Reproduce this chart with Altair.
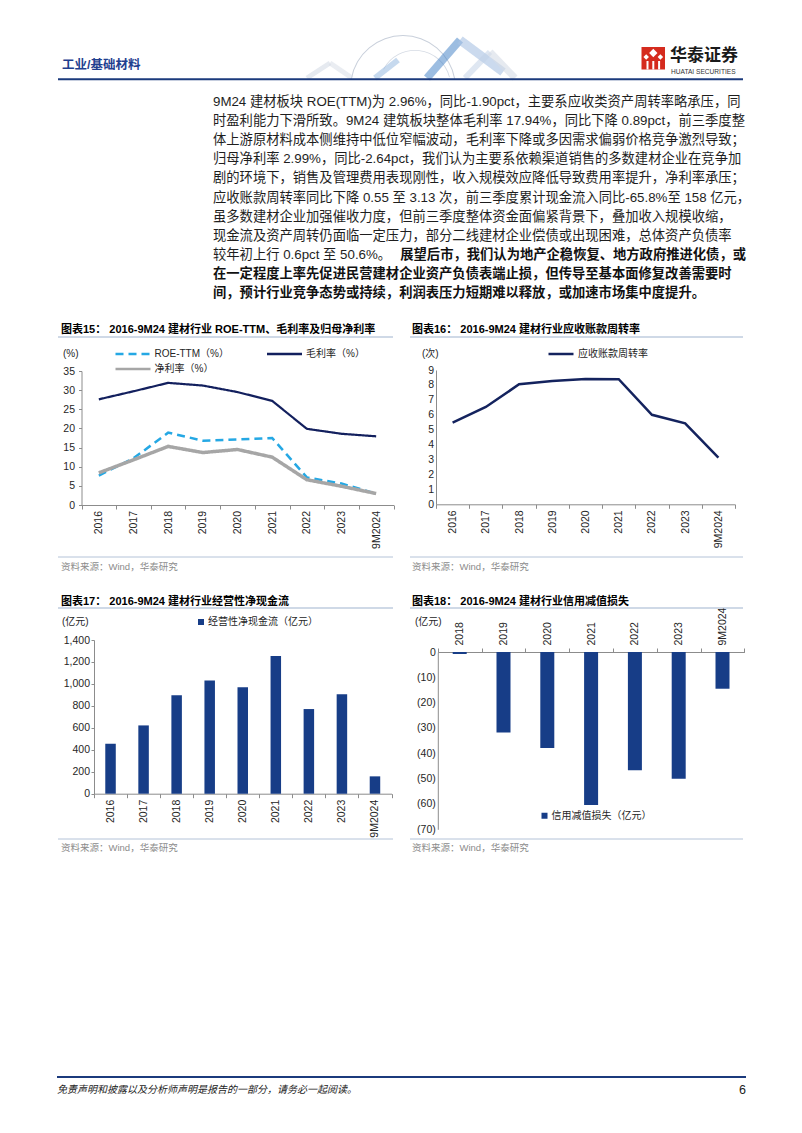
import altair as alt
import pandas as pd

# ---------------- data ----------------
years = ["2016", "2017", "2018", "2019", "2020", "2021", "2022", "2023", "9M2024"]
roe_ttm = [7.7, 12.2, 18.9, 16.8, 17.1, 17.5, 7.2, 5.6, 2.96]
gross_margin = [27.6, 29.7, 31.9, 31.2, 29.5, 27.2, 19.9, 18.6, 17.94]
net_margin = [8.4, 11.8, 15.3, 13.7, 14.5, 12.5, 6.6, 4.9, 2.99]
ar_turnover = [5.48, 6.52, 8.04, 8.27, 8.40, 8.38, 6.00, 5.43, 3.13]
op_cashflow = [455, 622, 896, 1032, 970, 1254, 771, 905, 158]
credit_years = ["2018", "2019", "2020", "2021", "2022", "2023", "9M2024"]
credit_loss = [-0.8, -31.8, -37.9, -60.4, -46.7, -50.0, -14.5]

series15 = ["ROE-TTM（%）", "毛利率（%）", "净利率（%）"]
series16 = ["应收账款周转率"]
series17 = ["经营性净现金流（亿元）"]
series18 = ["信用减值损失（亿元）"]

header_left = "工业/基础材料"
logo_cn = "华泰证券"
logo_en = "HUATAI SECURITIES"
para_lines = [
    "9M24 建材板块 ROE(TTM)为 2.96%，同比-1.90pct，主要系应收类资产周转率略承压，同",
    "时盈利能力下滑所致。9M24 建筑板块整体毛利率 17.94%，同比下降 0.89pct，前三季度整",
    "体上游原材料成本侧维持中低位窄幅波动，毛利率下降或多因需求偏弱价格竞争激烈导致；",
    "归母净利率 2.99%，同比-2.64pct，我们认为主要系依赖渠道销售的多数建材企业在竞争加",
    "剧的环境下，销售及管理费用表现刚性，收入规模效应降低导致费用率提升，净利率承压；",
    "应收账款周转率同比下降 0.55 至 3.13 次，前三季度累计现金流入同比-65.8%至 158 亿元，",
    "虽多数建材企业加强催收力度，但前三季度整体资金面偏紧背景下，叠加收入规模收缩，",
    "现金流及资产周转仍面临一定压力，部分二线建材企业偿债或出现困难，总体资产负债率",
    "较年初上行 0.6pct 至 50.6%。",
]
para_bold_tail = "展望后市，我们认为地产企稳恢复、地方政府推进化债，或"
para_bold_lines = [
    "在一定程度上率先促进民营建材企业资产负债表端止损，但传导至基本面修复改善需要时",
    "间，预计行业竞争态势或持续，利润表压力短期难以释放，或加速市场集中度提升。",
]
titles = [
    "图表15：  2016-9M24 建材行业 ROE-TTM、毛利率及归母净利率",
    "图表16：  2016-9M24 建材行业应收账款周转率",
    "图表17：  2016-9M24 建材行业经营性净现金流",
    "图表18：  2016-9M24 建材行业信用减值损失",
]
source_text = "资料来源：Wind，华泰研究"
footer_text = "免责声明和披露以及分析师声明是报告的一部分，请务必一起阅读。"
page_no = "6"

# ---------------- helpers ----------------
W, H = 786, 1117
def px(x):
    return x - 8
def py(y):
    return y - 8

AX = "#8C8C8C"
LAB = "#262626"
FONT_NUM = "Liberation Sans"
FONT_MIX = "Liberation Sans, Noto Sans CJK SC"
dummy = pd.DataFrame({"d": [0]})


def txt(s, x, y, size=10.0, color="#222222", weight="normal", align="left", font=FONT_MIX, style=None):
    kw = dict(text=s, fontSize=size, color=color, fontWeight=weight, align=align,
              baseline="middle", font=font)
    if style:
        kw["fontStyle"] = style
    return alt.Chart(dummy).mark_text(**kw).encode(x=alt.value(px(x)), y=alt.value(py(y)))


def rule(x1, y1, x2, y2, color, width, opacity=1.0):
    return alt.Chart(dummy).mark_rule(color=color, strokeWidth=width, opacity=opacity).encode(
        x=alt.value(px(x1)), y=alt.value(py(y1)), x2=alt.value(px(x2)), y2=alt.value(py(y2)))


def xaxis(offset, orient="bottom", pad=1.5):
    return alt.Axis(orient=orient, offset=offset, title=None, labelAngle=270,
                    labelAlign="right" if orient == "bottom" else "left", labelBaseline="middle",
                    tickBand="extent", tickSize=4, labelPadding=pad, grid=False,
                    domainColor=AX, tickColor=AX, labelFont=FONT_NUM, labelFontSize=10.5,
                    labelColor=LAB, labelOverlap=False)


def yaxis(offset, values, tick=3, pad=3, fmt=None, expr=None):
    kw = dict(orient="left", offset=offset, title=None, values=values, grid=False,
              tickSize=tick, ticks=tick > 0, labelPadding=pad, domainColor=AX, tickColor=AX,
              labelFont=FONT_NUM, labelFontSize=10.5, labelColor=LAB)
    if fmt:
        kw["format"] = fmt
    if expr:
        kw["labelExpr"] = expr
    return alt.Axis(**kw)


def legend(x, y, stype, ssize, offset=2.5, **extra):
    return alt.Legend(orient="none", legendX=px(x), legendY=py(y) - 6, clipHeight=12, title=None,
                      symbolType=stype, symbolSize=ssize, labelFont=FONT_MIX, labelFontSize=10,
                      labelColor=LAB, labelOffset=offset, padding=0, **extra)


layers = []

# ---------------- header decoration ----------------
layers.append(alt.Chart(dummy).mark_arc(theta=4.887, theta2=7.679, radius=53, radius2=52,
                                         color="#C9D0DB").encode(
    x=alt.value(px(403)), y=alt.value(py(88))))
layers.append(alt.Chart(dummy).mark_arc(theta=5.2, theta2=7.6, radius=36, radius2=35.2,
                                         color="#D5DBE4").encode(
    x=alt.value(px(415)), y=alt.value(py(86))))
layers.append(rule(307, 78, 330, 63, "#D5DCE6", 5, 0.6))
layers.append(rule(330, 63, 352, 78, "#D5DCE6", 5, 0.5))
layers.append(rule(375, 78, 398, 60, "#8DB3DE", 6, 0.5))
layers.append(rule(427, 78, 460, 40, "#4A86C8", 8, 0.55))
layers.append(rule(460, 40, 503, 72, "#A9C2E2", 9, 0.6))
layers.append(rule(465, 78, 490, 52, "#BFD0E6", 6, 0.5))
layers.append(rule(490, 52, 515, 78, "#D5DCE6", 7, 0.6))

layers.append(txt(header_left, 62, 65, size=12.5, color="#1F3F8F", weight="bold"))
layers.append(rule(58, 79.3, 743, 79.3, "#1B3A7C", 2))

# logo
layers.append(alt.Chart(dummy).mark_rect(color="#D52B1E").encode(
    x=alt.value(px(641.5)), x2=alt.value(px(665)), y=alt.value(py(47)), y2=alt.value(py(69.5))))
layers.append(alt.Chart(dummy).mark_point(shape="diamond", filled=True, color="white", opacity=1,
                                           size=70).encode(x=alt.value(px(653.3)), y=alt.value(py(53))))
for cx in (646.2, 660.4):
    layers.append(alt.Chart(dummy).mark_point(shape="diamond", filled=True, color="white", opacity=1,
                                               size=30).encode(x=alt.value(px(cx)), y=alt.value(py(57))))
for bx in (647.5, 653.3, 659.1):
    layers.append(rule(bx, 61, bx, 69.5, "white", 2))
layers.append(txt(logo_cn, 670, 55.5, size=17, color="#1A1A1A", weight="bold"))
layers.append(txt(logo_en, 671, 71.8, size=6.6, color="#333333"))

# ---------------- paragraph ----------------
FS = 13.3
for i, line in enumerate(para_lines):
    layers.append(txt(line, 213, 102 + 19.1 * i, size=FS, color="#1E1E1E"))
layers.append(txt(para_bold_tail, 746, 102 + 19.1 * 8, size=FS, color="#111111",
                  weight="bold", align="right"))
for j, line in enumerate(para_bold_lines):
    layers.append(txt(line, 213, 102 + 19.1 * (9 + j), size=FS, color="#111111", weight="bold"))

# ---------------- chart frames (titles, rules, sources) ----------------
for (tx, ty), t in zip([(61, 330), (412, 330), (61, 601.7), (412, 601.7)], titles):
    layers.append(txt(t, tx, ty, size=11, color="#000000", weight="bold"))
for (x1, x2, y) in [(58, 393, 337), (410, 743, 337), (58, 393, 608), (410, 743, 608)]:
    layers.append(rule(x1, y, x2, y, "#9FB3CE", 1))
for (x1, x2, y) in [(58, 393, 557), (410, 743, 557), (58, 393, 839), (410, 743, 839)]:
    layers.append(rule(x1, y, x2, y, "#B4C3D8", 1))
for (sx, sy) in [(61, 567), (412, 566.5), (61, 848), (412, 848)]:
    layers.append(txt(source_text, sx, sy, size=9.5, color="#8C8C8C"))

layers.append(txt("(%)", 63, 354, size=10, color=LAB))
layers.append(txt("(次)", 422, 354, size=10, color=LAB))
layers.append(txt("(亿元)", 62, 622, size=10, color=LAB))
layers.append(txt("(亿元)", 415, 622, size=10, color=LAB))

# ---------------- chart 15 ----------------
df15 = pd.DataFrame({
    "year": years * 3,
    "series": [series15[0]] * len(years) + [series15[1]] * len(years) + [series15[2]] * len(years),
    "value": roe_ttm + gross_margin + net_margin,
})
X15 = alt.X("year:N", scale=alt.Scale(domain=years, range=[px(81.5), px(393.5)],
                                      paddingInner=0, paddingOuter=0),
            axis=xaxis(-(H - py(505))))
Y15 = alt.Y("value:Q", scale=alt.Scale(domain=[0, 35], range=[py(505), py(371)], nice=False),
            axis=yaxis(-px(81.5), list(range(0, 36, 5)), tick=3, pad=4))
leg15 = legend(114, 354, "stroke", 1225, offset=2.5, columns=2, columnPadding=36.5, rowPadding=3,
               symbolStrokeWidth=2.5, direction="horizontal")
C15 = alt.Color("series:N", scale=alt.Scale(domain=series15, range=["#25A8E4", "#13205E", "#A6A6A6"]),
                legend=leg15)
D15 = alt.StrokeDash("series:N", scale=alt.Scale(domain=series15, range=[[8, 5], [1, 0], [1, 0]]),
                     legend=leg15)
base15 = alt.Chart(df15).encode(x=X15, y=Y15, color=C15, strokeDash=D15)
widths15 = [2.5, 2.2, 3.5]
ch15 = alt.layer(*[base15.transform_filter(alt.datum.series == s).mark_line(strokeWidth=w)
                   for s, w in zip(series15, widths15)])
layers.append(ch15)

# ---------------- chart 16 ----------------
df16 = pd.DataFrame({"year": years, "value": ar_turnover, "series": series16 * len(years)})
ch16 = alt.Chart(df16).mark_line(strokeWidth=2.5).encode(
    x=alt.X("year:N", scale=alt.Scale(domain=years, range=[px(436), px(735)],
                                      paddingInner=0, paddingOuter=0),
            axis=xaxis(-(H - py(504.3)))),
    y=alt.Y("value:Q", scale=alt.Scale(domain=[0, 9], range=[py(504.3), py(370)], nice=False),
            axis=yaxis(-px(436), list(range(0, 10)), tick=0, pad=2.5)),
    color=alt.Color("series:N", scale=alt.Scale(domain=series16, range=["#14235E"]),
                    legend=legend(547, 354, "stroke", 625, offset=3, symbolStrokeWidth=2.5)),
)
layers.append(ch16)

# ---------------- chart 17 ----------------
df17 = pd.DataFrame({"year": years, "value": op_cashflow, "series": series17 * len(years)})
ch17 = alt.Chart(df17).mark_bar(size=10.5).encode(
    x=alt.X("year:N", scale=alt.Scale(domain=years, range=[px(94), px(391.5)],
                                      paddingInner=0, paddingOuter=0),
            axis=xaxis(-(H - py(793.7)))),
    y=alt.Y("value:Q", scale=alt.Scale(domain=[0, 1400], range=[py(793.7), py(640)], nice=False),
            axis=yaxis(-px(94), list(range(0, 1401, 200)), tick=3, pad=1.5, fmt=",d")),
    color=alt.Color("series:N", scale=alt.Scale(domain=series17, range=["#173D87"]),
                    legend=legend(196, 622, "square", 36, offset=2, symbolStrokeWidth=0)),
)
layers.append(ch17)

# ---------------- chart 18 ----------------
df18 = pd.DataFrame({"year": credit_years, "value": credit_loss, "series": series18 * len(credit_years)})
ch18 = alt.Chart(df18).mark_bar(size=14).encode(
    x=alt.X("year:N", scale=alt.Scale(domain=credit_years, range=[px(437.8), px(744.4)],
                                      paddingInner=0, paddingOuter=0),
            axis=xaxis(-py(652), orient="top", pad=3)),
    y=alt.Y("value:Q", scale=alt.Scale(domain=[-70, 0], range=[py(829.3), py(652)], nice=False),
            axis=yaxis(-px(437.8), list(range(-70, 1, 10)), tick=0, pad=2.5,
                       expr="datum.value < 0 ? '(' + (-datum.value) + ')' : '0'")),
    color=alt.Color("series:N", scale=alt.Scale(domain=series18, range=["#173D87"]),
                    legend=legend(539.5, 815.7, "square", 36, offset=2, symbolStrokeWidth=0)),
)
layers.append(ch18)

# ---------------- footer ----------------
layers.append(rule(57, 1077, 746, 1077, "#1B3A7C", 2))
layers.append(txt(footer_text, 57, 1090, size=10, color="#222222", style="italic"))
layers.append(txt(page_no, 746, 1090, size=12.5, color="#222222", align="right", font=FONT_NUM))

chart = alt.layer(*layers).resolve_scale(
    x="independent", y="independent", color="independent", strokeDash="independent"
).resolve_axis(
    x="independent", y="independent"
).resolve_legend(
    color="independent", strokeDash="independent"
).properties(
    width=W, height=H, padding=0, autosize=alt.AutoSizeParams(type="none")
).configure_view(stroke=None)

chart.save("out.html", embed_options={"renderer": "svg", "actions": False})
